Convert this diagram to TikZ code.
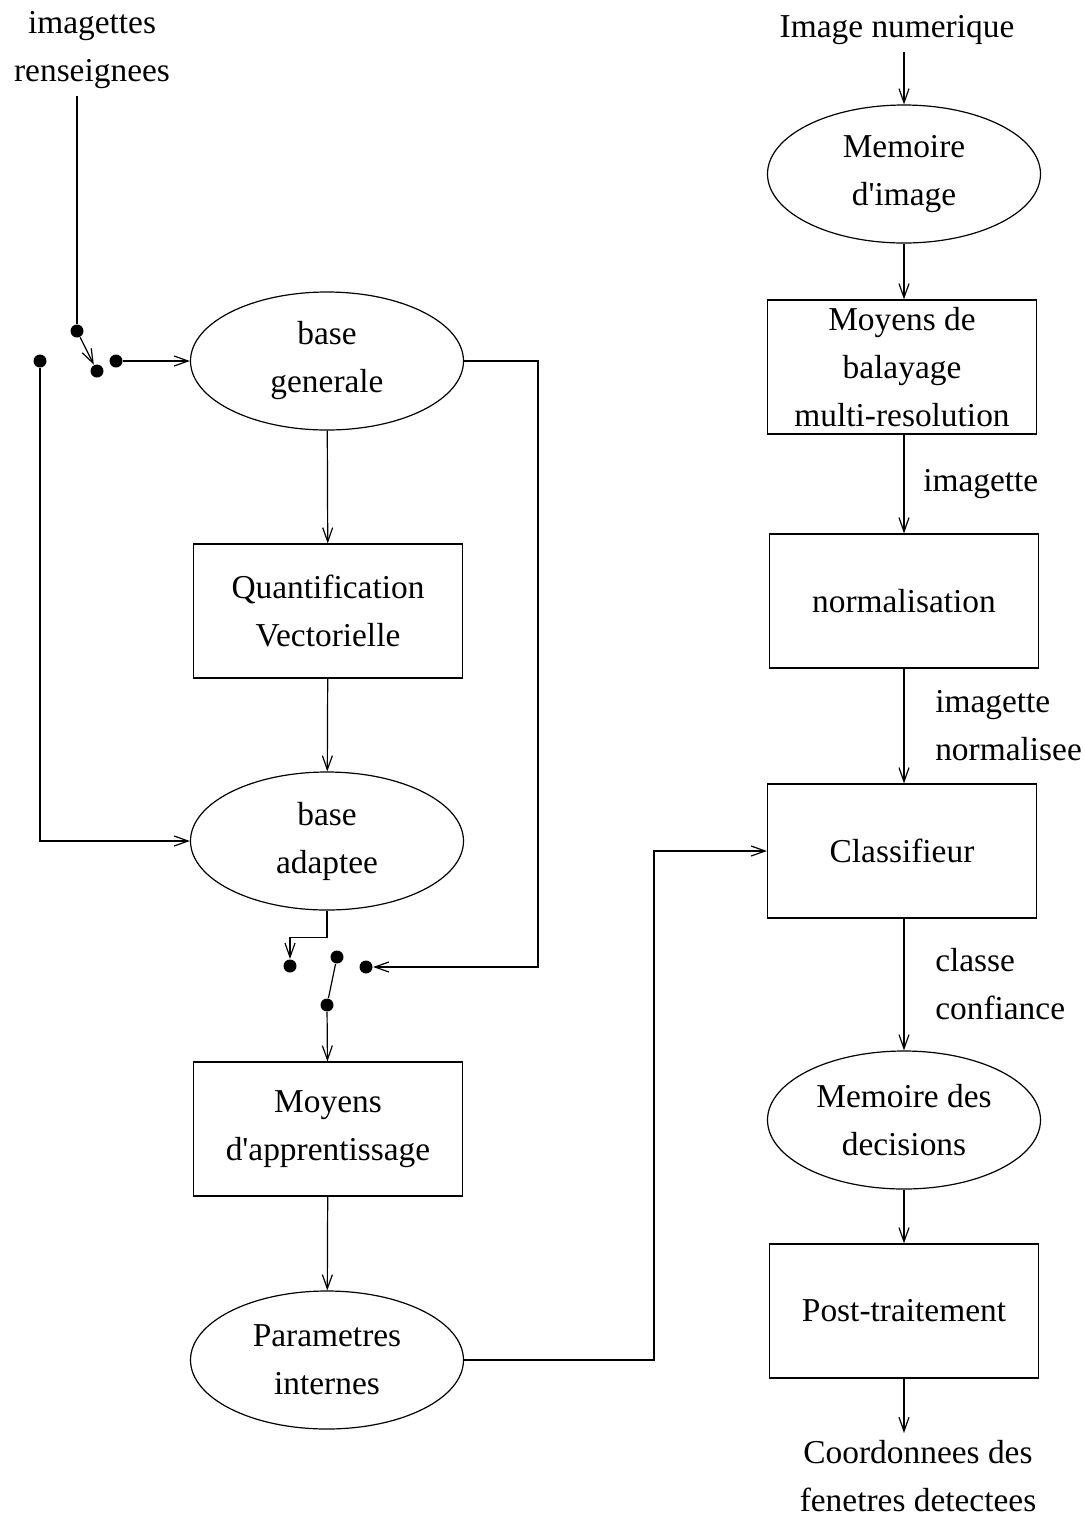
\documentclass[tikz,border=0pt]{standalone}
\usepackage{fontspec}
\setmainfont{Liberation Serif}
\usetikzlibrary{arrows.meta,shapes.geometric}

\begin{document}
\begin{tikzpicture}[x=0.5pt,y=-0.5pt,->,>={Straight Barb[length=7pt,width=5pt]},
                    semithick,
                    every node/.style={font=\fontsize{16.7}{24}\selectfont,align=center},
                    oval node/.style={ellipse,draw,inner sep=0pt,minimum width=136.5pt,minimum height=69pt},
                    box node/.style={rectangle,draw,inner sep=0pt,minimum width=134.5pt,minimum height=67pt},
                    dot/.style={circle,fill,inner sep=0pt,minimum size=6.5pt}]
  \useasboundingbox (0,0) rectangle (1085,1517);

  % left column
  \node (src) at (92,50) {imagettes\\renseignees};
  \node[dot] (s1) at (77,331) {};
  \node[dot] (s2) at (97,371) {};
  \node[dot] (s3) at (116,361) {};
  \node[dot] (s4) at (40,361) {};
  \node[oval node] (bg) at (327,361) {base\\generale};
  \node[box node] (qv) at (328,611) {\fontsize{16.7}{28}\selectfont Quantification\\Vectorielle};
  \node[oval node] (ba) at (327,841) {base\\adaptee};
  \node[dot] (t1) at (290,966) {};
  \node[dot] (t2) at (337,957) {};
  \node[dot] (t3) at (366,967) {};
  \node[dot] (t4) at (327,1005) {};
  \node[box node] (ma) at (328,1129) {\fontsize{16.7}{28}\selectfont Moyens\\d\textquotesingle apprentissage};
  \node[oval node] (pi) at (327,1360) {\fontsize{16.7}{28}\selectfont Parametres\\internes};

  % right column
  \node (in) at (897,30) {Image numerique};
  \node[oval node] (mi) at (904,174) {Memoire\\d\textquotesingle image};
  \node[box node] (mb) at (902,367) {\fontsize{16.7}{19.5}\selectfont Moyens de\\balayage\\multi-resolution};
  \node[box node] (no) at (904,601) {normalisation};
  \node[box node] (cl) at (902,851) {Classifieur};
  \node[oval node] (md) at (904,1120) {Memoire des\\decisions};
  \node[box node] (pt) at (904,1311) {Post-traitement};
  \node (out) at (918,1476) {\fontsize{16.7}{22}\selectfont Coordonnees des\\fenetres detectees};

  \coordinate (r1) at (538,361);
  \coordinate (r2) at (654,851);

  \draw[-] (s1 |- src.south) -- (s1);
  \draw (s1) -- (s2);
  \draw (s3) -- (bg.west);
  \draw (s4) |- (ba.west);
  \draw (bg.east) -- (r1) |- (t3);
  \draw (bg) -- (qv);
  \draw (qv) -- (ba);
  \draw (ba.south) -- ++(0,27) -| (t1);
  \draw[-] (t4) -- (t2);
  \draw (t4) -- (ma);
  \draw (ma) -- (pi);
  \draw (pi.east) -| (r2) -- (cl.west);

  \draw (mi |- in.south) -- (mi);
  \draw (mi) -- (mb.north -| mi);
  \draw (mb.south -| mi) -- node[right,xshift=6pt] {imagette} (no);
  \draw (no) -- node[right,xshift=12pt,align=left] {\fontsize{16.7}{19.5}\selectfont imagette\\normalisee} (cl.north -| no);
  \draw (cl.south -| no) -- node[right,xshift=12pt,align=left] {classe\\confiance} (md);
  \draw (md) -- (pt);
  \draw (pt) -- (pt |- out.north);
\end{tikzpicture}
\end{document}
